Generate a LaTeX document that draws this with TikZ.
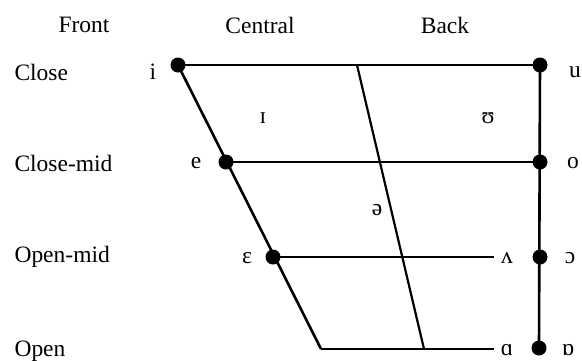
\documentclass[tikz,border=0pt]{standalone}
\usepackage{fontspec}
\setmainfont{Liberation Serif}
\begin{document}
\begin{tikzpicture}[x=1pt,y=-1pt,
  font=\fontsize{23.5}{26}\selectfont,
  vowel/.style={circle,fill,inner sep=0pt,minimum size=15pt},
  edge/.style={line width=2.6pt},
  rowlabel/.style={anchor=west}]
\useasboundingbox (0,0) rectangle (582,360);

% column heads
\node (front) at (84,25) {Front};
\node (central) at (260,25) {Central};
\node (back) at (445,25) {Back};

% row heads
\node[rowlabel] (close) at (11,72) {Close};
\node[rowlabel] (closemid) at (11,163) {Close-mid};
\node[rowlabel] (openmid) at (11,257) {Open-mid};
\node[rowlabel] (open) at (11,351) {Open};

% dots
\node[vowel] (i) at (178,65) {};
\node[vowel] (e) at (226,162) {};
\node[vowel] (eps) at (273,257) {};
\node[vowel] (u) at (540,65) {};
\node[vowel] (o) at (540,162) {};
\node[vowel] (oo) at (540,257) {};
\node[vowel] (ob) at (539,348) {};

\coordinate (lowfront) at (321,349);
\coordinate (lowend) at (494,349);
\coordinate (midend) at (494,257);
\coordinate (ctop) at (357,65);
\coordinate (cbot) at (424,349);

\draw[edge] (i.center) -- (u.center);
\draw[edge] (e.center) -- (o.center);
\draw[edge] (eps.center) -- (midend);
\draw[edge] (lowfront) -- (lowend);
\draw[edge] (i.center) -- (lowfront);
\draw[edge] (u.center) -- (ob.center);
\draw[line width=2.2pt] (ctop) -- (cbot);

% symbols
\node (li) at (153,72) {i};
\node (le) at (196,163) {e};
\node (leps) at (247,258) {ɛ};
\node (lI) at (263,118) {ɪ};
\node (lU) at (488,118) {ʊ};
\node (lschwa) at (377,210) {ə};
\node (lu) at (575,72) {u};
\node (lo) at (573,163) {o};
\node (lwedge) at (507,258) {ʌ};
\node (lopeno) at (570,258) {ɔ};
\node (la) at (507,350) {ɑ};
\node (lturna) at (568,350) {ɒ};
\end{tikzpicture}
\end{document}
